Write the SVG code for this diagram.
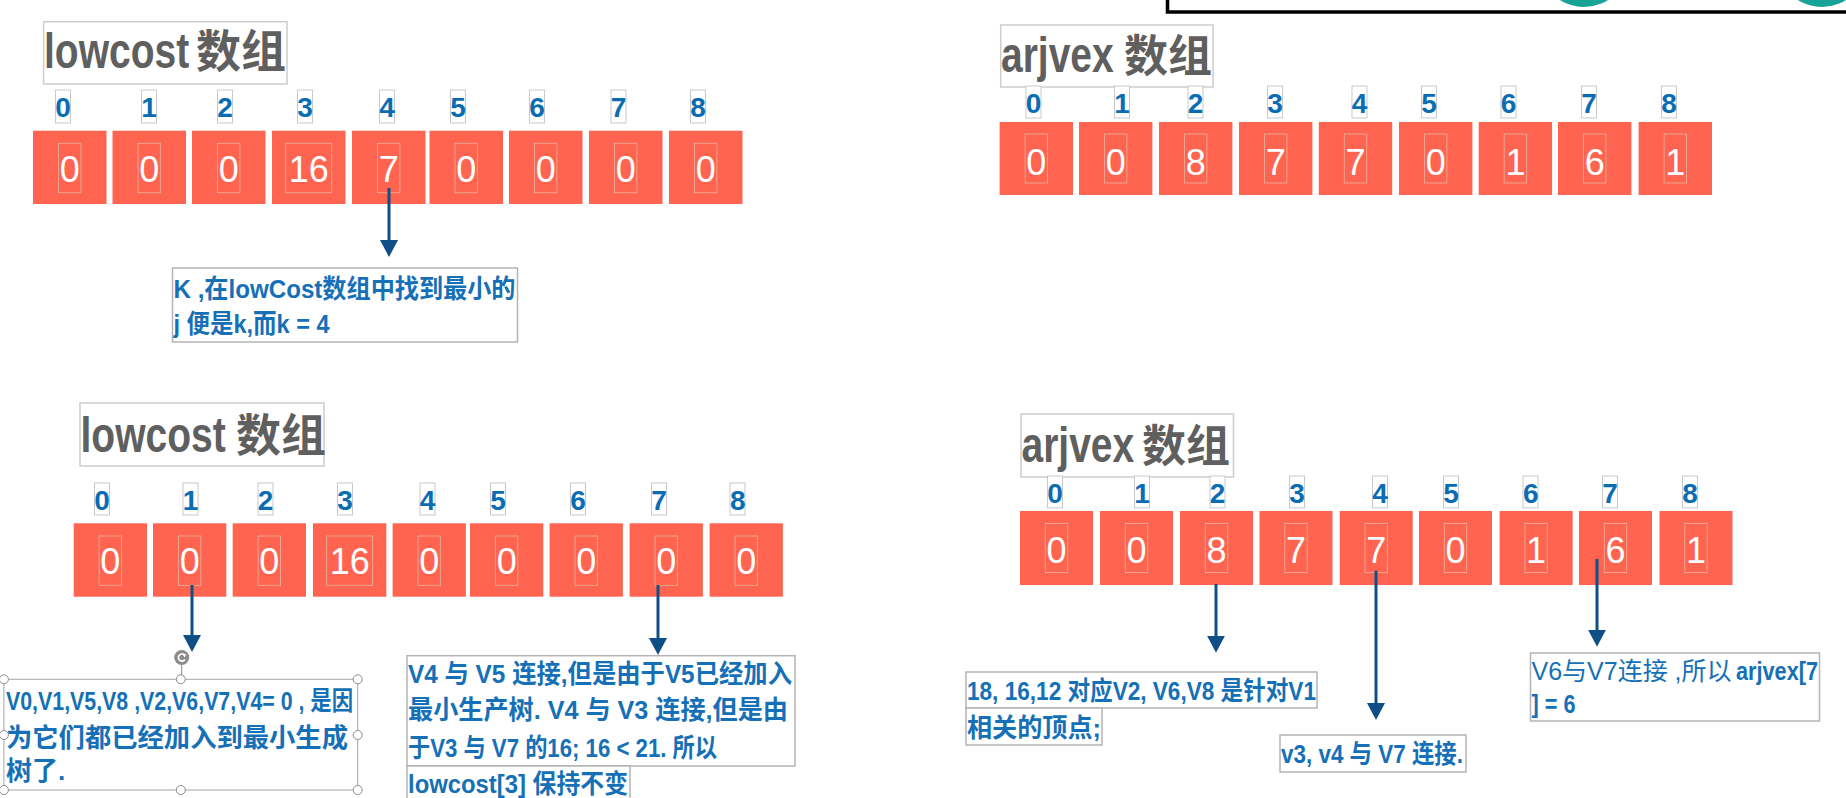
<svg xmlns="http://www.w3.org/2000/svg" width="1846" height="798" viewBox="0 0 1846 798">
<defs>
<style>
.cell{fill:#FF6450}
.vb{fill:none;stroke:#E9A38E;stroke-width:1}
.val{font-family:"Liberation Sans",Arial,sans-serif;font-size:36px;fill:#FFFFFF;text-anchor:middle}
.ib{fill:#FFFFFF;stroke:#C9C9C9;stroke-width:1}
.idx{font-family:"Liberation Sans",Arial,sans-serif;font-weight:bold;font-size:28px;fill:#0A6DB3;text-anchor:middle}
.tb{fill:#FFFFFF;stroke:#CDCDCD;stroke-width:1.5}
.tl{font-family:"Liberation Sans",Arial,sans-serif;font-weight:bold;font-size:39px;fill:#5F5F5F}
.tc{font-family:"Noto Sans CJK SC",sans-serif;font-weight:bold;font-size:45px;fill:#5F5F5F}
.nb{fill:#FFFFFF;stroke:#B4B4B4;stroke-width:1.5}
.nt{font-family:"Liberation Sans","Noto Sans CJK SC",sans-serif;font-weight:bold;font-size:26px;fill:#1670B7}
.conn{stroke:#0F4E86;stroke-width:3;fill:none;marker-end:url(#ah)}
.hd{fill:#FFFFFF;stroke:#8C8C8C;stroke-width:1}
</style>
<marker id="ah" markerUnits="userSpaceOnUse" markerWidth="18" markerHeight="18" refX="7" refY="9" orient="auto">
<path d="M0,0 L17,9 L0,18 Z" fill="#0F4E86"/>
</marker>
</defs>
<rect x="0" y="0" width="1846" height="798" fill="#FFFFFF"/>

<g id="frame-top">
<circle cx="1584" cy="-38" r="45" fill="#17A398"/>
<circle cx="1822" cy="-38" r="45" fill="#17A398"/>
<rect x="1167.5" y="-20" width="700" height="32" fill="none" stroke="#000000" stroke-width="3.5"/>
</g>

<!-- Titles -->
<g id="title-tl">
<rect class="tb" x="43.6" y="21.7" width="243.4" height="62.3"/>
<text class="tl" transform="translate(44,68) scale(1,1.28)" x="0" y="0">lowcost</text>
<text class="tc" x="196" y="68">数组</text>
</g>
<g id="title-tr">
<rect class="tb" x="1000.7" y="25" width="212.3" height="62"/>
<text class="tl" transform="translate(1001,71.7) scale(1,1.28)" x="0" y="0">arjvex</text>
<text class="tc" x="1124" y="72" style="font-size:44px">数组</text>
</g>
<g id="title-bl">
<rect class="tb" x="80" y="403" width="244" height="63"/>
<text class="tl" transform="translate(80.5,451.7) scale(1,1.28)" x="0" y="0">lowcost</text>
<text class="tc" x="236" y="452">数组</text>
</g>
<g id="title-br">
<rect class="tb" x="1021" y="414" width="212.5" height="63"/>
<text class="tl" transform="translate(1021.5,461.7) scale(1,1.28)" x="0" y="0">arjvex</text>
<text class="tc" x="1142" y="462" style="font-size:44px">数组</text>
</g>

<!-- Top-left lowcost array -->
<g id="tl-array">
<g id="tl-i0"><rect class="ib" x="55.5" y="90" width="15" height="33"/><text class="idx" x="63" y="117">0</text></g>
<g id="tl-i1"><rect class="ib" x="141.5" y="90" width="15" height="33"/><text class="idx" x="149" y="117">1</text></g>
<g id="tl-i2"><rect class="ib" x="217.5" y="90" width="15" height="33"/><text class="idx" x="225" y="117">2</text></g>
<g id="tl-i3"><rect class="ib" x="297.5" y="90" width="15" height="33"/><text class="idx" x="305" y="117">3</text></g>
<g id="tl-i4"><rect class="ib" x="379.5" y="90" width="15" height="33"/><text class="idx" x="387" y="117">4</text></g>
<g id="tl-i5"><rect class="ib" x="450.5" y="90" width="15" height="33"/><text class="idx" x="458" y="117">5</text></g>
<g id="tl-i6"><rect class="ib" x="529.5" y="90" width="15" height="33"/><text class="idx" x="537" y="117">6</text></g>
<g id="tl-i7"><rect class="ib" x="611" y="90" width="15" height="33"/><text class="idx" x="618.5" y="117">7</text></g>
<g id="tl-i8"><rect class="ib" x="690.5" y="90" width="15" height="33"/><text class="idx" x="698" y="117">8</text></g>
<g id="tl-c0"><rect class="cell" x="33" y="130.7" width="73.5" height="73.3"/><rect class="vb" x="58.5" y="143.3" width="22.4" height="49.4"/><text class="val" x="69.75" y="181.7">0</text></g>
<g id="tl-c1"><rect class="cell" x="112.5" y="130.7" width="73.5" height="73.3"/><rect class="vb" x="138" y="143.3" width="22.4" height="49.4"/><text class="val" x="149.25" y="181.7">0</text></g>
<g id="tl-c2"><rect class="cell" x="192" y="130.7" width="73.5" height="73.3"/><rect class="vb" x="217.5" y="143.3" width="22.4" height="49.4"/><text class="val" x="228.75" y="181.7">0</text></g>
<g id="tl-c3"><rect class="cell" x="272" y="130.7" width="73.5" height="73.3"/><rect class="vb" x="285.7" y="143.3" width="46" height="49.4"/><text class="val" x="308.75" y="181.7">16</text></g>
<g id="tl-c4"><rect class="cell" x="352" y="130.7" width="73.5" height="73.3"/><rect class="vb" x="377.5" y="143.3" width="22.4" height="49.4"/><text class="val" x="388.75" y="181.7">7</text></g>
<g id="tl-c5"><rect class="cell" x="429.5" y="130.7" width="73.5" height="73.3"/><rect class="vb" x="455" y="143.3" width="22.4" height="49.4"/><text class="val" x="466.25" y="181.7">0</text></g>
<g id="tl-c6"><rect class="cell" x="509" y="130.7" width="73.5" height="73.3"/><rect class="vb" x="534.5" y="143.3" width="22.4" height="49.4"/><text class="val" x="545.75" y="181.7">0</text></g>
<g id="tl-c7"><rect class="cell" x="589" y="130.7" width="73.5" height="73.3"/><rect class="vb" x="614.5" y="143.3" width="22.4" height="49.4"/><text class="val" x="625.75" y="181.7">0</text></g>
<g id="tl-c8"><rect class="cell" x="669" y="130.7" width="73.5" height="73.3"/><rect class="vb" x="694.5" y="143.3" width="22.4" height="49.4"/><text class="val" x="705.75" y="181.7">0</text></g>
</g>

<!-- Top-right arjvex array -->
<g id="tr-array">
<g id="tr-i0"><rect class="ib" x="1026" y="86" width="15" height="32"/><text class="idx" x="1033.5" y="113">0</text></g>
<g id="tr-i1"><rect class="ib" x="1114.5" y="86" width="15" height="32"/><text class="idx" x="1122" y="113">1</text></g>
<g id="tr-i2"><rect class="ib" x="1188" y="86" width="15" height="32"/><text class="idx" x="1195.6" y="113">2</text></g>
<g id="tr-i3"><rect class="ib" x="1267.5" y="86" width="15" height="32"/><text class="idx" x="1275" y="113">3</text></g>
<g id="tr-i4"><rect class="ib" x="1352" y="86" width="15" height="32"/><text class="idx" x="1359.5" y="113">4</text></g>
<g id="tr-i5"><rect class="ib" x="1421.5" y="86" width="15" height="32"/><text class="idx" x="1429" y="113">5</text></g>
<g id="tr-i6"><rect class="ib" x="1501" y="86" width="15" height="32"/><text class="idx" x="1508.6" y="113">6</text></g>
<g id="tr-i7"><rect class="ib" x="1581.5" y="86" width="15" height="32"/><text class="idx" x="1589" y="113">7</text></g>
<g id="tr-i8"><rect class="ib" x="1661.5" y="86" width="15" height="32"/><text class="idx" x="1669" y="113">8</text></g>
<g id="tr-c0"><rect class="cell" x="999.6" y="122" width="73.4" height="73"/><rect class="vb" x="1025.1" y="134" width="22.4" height="49"/><text class="val" x="1036.3" y="174.5">0</text></g>
<g id="tr-c1"><rect class="cell" x="1079" y="122" width="73.4" height="73"/><rect class="vb" x="1104.5" y="134" width="22.4" height="49"/><text class="val" x="1115.7" y="174.5">0</text></g>
<g id="tr-c2"><rect class="cell" x="1159" y="122" width="73.4" height="73"/><rect class="vb" x="1184.5" y="134" width="22.4" height="49"/><text class="val" x="1195.7" y="174.5">8</text></g>
<g id="tr-c3"><rect class="cell" x="1239" y="122" width="73.4" height="73"/><rect class="vb" x="1264.5" y="134" width="22.4" height="49"/><text class="val" x="1275.7" y="174.5">7</text></g>
<g id="tr-c4"><rect class="cell" x="1318.8" y="122" width="73.4" height="73"/><rect class="vb" x="1344.3" y="134" width="22.4" height="49"/><text class="val" x="1355.5" y="174.5">7</text></g>
<g id="tr-c5"><rect class="cell" x="1399" y="122" width="73.4" height="73"/><rect class="vb" x="1424.5" y="134" width="22.4" height="49"/><text class="val" x="1435.7" y="174.5">0</text></g>
<g id="tr-c6"><rect class="cell" x="1478.7" y="122" width="73.4" height="73"/><rect class="vb" x="1504.2" y="134" width="22.4" height="49"/><text class="val" x="1515.4" y="174.5">1</text></g>
<g id="tr-c7"><rect class="cell" x="1558" y="122" width="73.4" height="73"/><rect class="vb" x="1583.5" y="134" width="22.4" height="49"/><text class="val" x="1594.7" y="174.5">6</text></g>
<g id="tr-c8"><rect class="cell" x="1638.6" y="122" width="73.4" height="73"/><rect class="vb" x="1664.1" y="134" width="22.4" height="49"/><text class="val" x="1675.3" y="174.5">1</text></g>
</g>

<!-- Bottom-left lowcost array -->
<g id="bl-array">
<g id="bl-i0"><rect class="ib" x="94.5" y="483" width="15" height="32"/><text class="idx" x="102" y="510">0</text></g>
<g id="bl-i1"><rect class="ib" x="183" y="483" width="15" height="32"/><text class="idx" x="190.5" y="510">1</text></g>
<g id="bl-i2"><rect class="ib" x="258" y="483" width="15" height="32"/><text class="idx" x="265.6" y="510">2</text></g>
<g id="bl-i3"><rect class="ib" x="337.5" y="483" width="15" height="32"/><text class="idx" x="345" y="510">3</text></g>
<g id="bl-i4"><rect class="ib" x="420" y="483" width="15" height="32"/><text class="idx" x="427.5" y="510">4</text></g>
<g id="bl-i5"><rect class="ib" x="490.5" y="483" width="15" height="32"/><text class="idx" x="498" y="510">5</text></g>
<g id="bl-i6"><rect class="ib" x="570.5" y="483" width="15" height="32"/><text class="idx" x="578" y="510">6</text></g>
<g id="bl-i7"><rect class="ib" x="651.5" y="483" width="15" height="32"/><text class="idx" x="659" y="510">7</text></g>
<g id="bl-i8"><rect class="ib" x="730" y="483" width="15" height="32"/><text class="idx" x="737.7" y="510">8</text></g>
<g id="bl-c0"><rect class="cell" x="73.7" y="523.3" width="73.3" height="73.4"/><rect class="vb" x="99.1" y="536" width="22.4" height="49.4"/><text class="val" x="110.35" y="574.3">0</text></g>
<g id="bl-c1"><rect class="cell" x="153" y="523.3" width="73.3" height="73.4"/><rect class="vb" x="178.4" y="536" width="22.4" height="49.4"/><text class="val" x="189.65" y="574.3">0</text></g>
<g id="bl-c2"><rect class="cell" x="232.7" y="523.3" width="73.3" height="73.4"/><rect class="vb" x="258.1" y="536" width="22.4" height="49.4"/><text class="val" x="269.35" y="574.3">0</text></g>
<g id="bl-c3"><rect class="cell" x="313" y="523.3" width="73.3" height="73.4"/><rect class="vb" x="326.6" y="536" width="46" height="49.4"/><text class="val" x="349.65" y="574.3">16</text></g>
<g id="bl-c4"><rect class="cell" x="392.6" y="523.3" width="73.3" height="73.4"/><rect class="vb" x="418" y="536" width="22.4" height="49.4"/><text class="val" x="429.25" y="574.3">0</text></g>
<g id="bl-c5"><rect class="cell" x="470" y="523.3" width="73.3" height="73.4"/><rect class="vb" x="495.4" y="536" width="22.4" height="49.4"/><text class="val" x="506.65" y="574.3">0</text></g>
<g id="bl-c6"><rect class="cell" x="549.6" y="523.3" width="73.3" height="73.4"/><rect class="vb" x="575" y="536" width="22.4" height="49.4"/><text class="val" x="586.25" y="574.3">0</text></g>
<g id="bl-c7"><rect class="cell" x="629.6" y="523.3" width="73.3" height="73.4"/><rect class="vb" x="655" y="536" width="22.4" height="49.4"/><text class="val" x="666.25" y="574.3">0</text></g>
<g id="bl-c8"><rect class="cell" x="709.6" y="523.3" width="73.3" height="73.4"/><rect class="vb" x="735" y="536" width="22.4" height="49.4"/><text class="val" x="746.25" y="574.3">0</text></g>
</g>

<!-- Bottom-right arjvex array -->
<g id="br-array">
<g id="br-i0"><rect class="ib" x="1047.5" y="476" width="15" height="32"/><text class="idx" x="1055" y="503">0</text></g>
<g id="br-i1"><rect class="ib" x="1134.5" y="476" width="15" height="32"/><text class="idx" x="1142" y="503">1</text></g>
<g id="br-i2"><rect class="ib" x="1210" y="476" width="15" height="32"/><text class="idx" x="1217.6" y="503">2</text></g>
<g id="br-i3"><rect class="ib" x="1289.5" y="476" width="15" height="32"/><text class="idx" x="1297" y="503">3</text></g>
<g id="br-i4"><rect class="ib" x="1372.5" y="476" width="15" height="32"/><text class="idx" x="1380" y="503">4</text></g>
<g id="br-i5"><rect class="ib" x="1443.5" y="476" width="15" height="32"/><text class="idx" x="1451" y="503">5</text></g>
<g id="br-i6"><rect class="ib" x="1523" y="476" width="15" height="32"/><text class="idx" x="1530.7" y="503">6</text></g>
<g id="br-i7"><rect class="ib" x="1602.5" y="476" width="15" height="32"/><text class="idx" x="1610" y="503">7</text></g>
<g id="br-i8"><rect class="ib" x="1682.5" y="476" width="15" height="32"/><text class="idx" x="1690" y="503">8</text></g>
<g id="br-c0"><rect class="cell" x="1020" y="511" width="73" height="74"/><rect class="vb" x="1045.3" y="523.5" width="22.4" height="49"/><text class="val" x="1056.5" y="563">0</text></g>
<g id="br-c1"><rect class="cell" x="1100" y="511" width="73" height="74"/><rect class="vb" x="1125.3" y="523.5" width="22.4" height="49"/><text class="val" x="1136.5" y="563">0</text></g>
<g id="br-c2"><rect class="cell" x="1180" y="511" width="73" height="74"/><rect class="vb" x="1205.3" y="523.5" width="22.4" height="49"/><text class="val" x="1216.5" y="563">8</text></g>
<g id="br-c3"><rect class="cell" x="1259.5" y="511" width="73" height="74"/><rect class="vb" x="1284.8" y="523.5" width="22.4" height="49"/><text class="val" x="1296" y="563">7</text></g>
<g id="br-c4"><rect class="cell" x="1339.7" y="511" width="73" height="74"/><rect class="vb" x="1365" y="523.5" width="22.4" height="49"/><text class="val" x="1376.2" y="563">7</text></g>
<g id="br-c5"><rect class="cell" x="1419" y="511" width="73" height="74"/><rect class="vb" x="1444.3" y="523.5" width="22.4" height="49"/><text class="val" x="1455.5" y="563">0</text></g>
<g id="br-c6"><rect class="cell" x="1499.6" y="511" width="73" height="74"/><rect class="vb" x="1524.9" y="523.5" width="22.4" height="49"/><text class="val" x="1536.1" y="563">1</text></g>
<g id="br-c7"><rect class="cell" x="1579" y="511" width="73" height="74"/><rect class="vb" x="1604.3" y="523.5" width="22.4" height="49"/><text class="val" x="1615.5" y="563">6</text></g>
<g id="br-c8"><rect class="cell" x="1659.5" y="511" width="73" height="74"/><rect class="vb" x="1684.8" y="523.5" width="22.4" height="49"/><text class="val" x="1696" y="563">1</text></g>
</g>

<!-- Notes -->
<g id="note-k">
<rect class="nb" x="172.5" y="268" width="345" height="74"/>
<text class="nt" x="173.5" y="298" textLength="342" lengthAdjust="spacingAndGlyphs">K ,在lowCost数组中找到最小的</text>
<text class="nt" x="173.5" y="333" textLength="156" lengthAdjust="spacingAndGlyphs">j 便是k,而k = 4</text>
</g>

<g id="note-zero">
<rect x="3.9" y="679.3" width="353.8" height="110.7" fill="#FFFFFF" stroke="#A6A6A6" stroke-width="1"/>
<text class="nt" x="6" y="710" textLength="347" lengthAdjust="spacingAndGlyphs">V0,V1,V5,V8 ,V2,V6,V7,V4= 0 , 是因</text>
<text class="nt" x="6" y="746.7" textLength="342" lengthAdjust="spacingAndGlyphs">为它们都已经加入到最小生成</text>
<text class="nt" x="6" y="780">树了.</text>
<line x1="181.7" y1="664.5" x2="181.7" y2="675" stroke="#8C8C8C" stroke-width="1"/>
<circle cx="181.7" cy="657.5" r="7.5" fill="#8C8C8C"/>
<path d="M184.5,655 A3.6,3.6 0 1 0 185,659.5" fill="none" stroke="#FFFFFF" stroke-width="1.6"/>
<path d="M182.3,653.6 L186.2,654.2 L184.6,657.6 Z" fill="#FFFFFF"/>
<circle class="hd" cx="3.9" cy="679.3" r="4.5"/>
<circle class="hd" cx="180.8" cy="679.3" r="4.5"/>
<circle class="hd" cx="357.7" cy="679.3" r="4.5"/>
<circle class="hd" cx="3.9" cy="735" r="4.5"/>
<circle class="hd" cx="357.7" cy="735" r="4.5"/>
<circle class="hd" cx="3.9" cy="790" r="4.5"/>
<circle class="hd" cx="180.8" cy="790" r="4.5"/>
<circle class="hd" cx="357.7" cy="790" r="4.5"/>
</g>

<g id="note-v4">
<rect class="nb" x="407" y="655.7" width="388" height="110.3"/>
<text class="nt" x="408" y="683" textLength="384" lengthAdjust="spacingAndGlyphs">V4 与 V5 连接,但是由于V5已经加入</text>
<text class="nt" x="408" y="718.5" textLength="380" lengthAdjust="spacingAndGlyphs">最小生产树.   V4 与 V3 连接,但是由</text>
<text class="nt" x="408" y="756.7" textLength="309" lengthAdjust="spacingAndGlyphs">于V3 与 V7 的16; 16 &lt; 21. 所以</text>
</g>
<g id="note-v4-tail">
<rect class="nb" x="407" y="766" width="223" height="40"/>
<text class="nt" x="408" y="793.3" textLength="220" lengthAdjust="spacingAndGlyphs">lowcost[3] 保持不变</text>
</g>

<g id="note-18">
<rect class="nb" x="966" y="672" width="351" height="36"/>
<text class="nt" x="967" y="700" textLength="349" lengthAdjust="spacingAndGlyphs">18, 16,12  对应V2, V6,V8 是针对V1</text>
</g>
<g id="note-18-tail">
<rect class="nb" x="966" y="708" width="136" height="37"/>
<text class="nt" x="967" y="737" textLength="134" lengthAdjust="spacingAndGlyphs">相关的顶点;</text>
</g>

<g id="note-v3v4">
<rect class="nb" x="1280" y="735" width="186" height="37"/>
<text class="nt" x="1281" y="763" textLength="182" lengthAdjust="spacingAndGlyphs">v3, v4 与 V7 连接.</text>
</g>

<g id="note-v6v7">
<rect class="nb" x="1530.5" y="653" width="289" height="68"/>
<text class="nt" x="1531.5" y="680" style="font-weight:normal;font-size:25px">V6与V7连接 ,所以</text>
<text class="nt" x="1736" y="680" textLength="82" lengthAdjust="spacingAndGlyphs">arjvex[7</text>
<text class="nt" x="1531.5" y="713" textLength="44" lengthAdjust="spacingAndGlyphs">] = 6</text>
</g>

<!-- Connectors -->
<g id="connectors">
<line class="conn" x1="389" y1="188" x2="389" y2="247"/>
<line class="conn" x1="192" y1="585" x2="192" y2="642"/>
<line class="conn" x1="658" y1="585" x2="658" y2="645"/>
<line class="conn" x1="1216" y1="584" x2="1216" y2="642.7"/>
<line class="conn" x1="1376" y1="570.7" x2="1376" y2="710"/>
<line class="conn" x1="1597" y1="559" x2="1597" y2="636.7"/>
</g>
</svg>
